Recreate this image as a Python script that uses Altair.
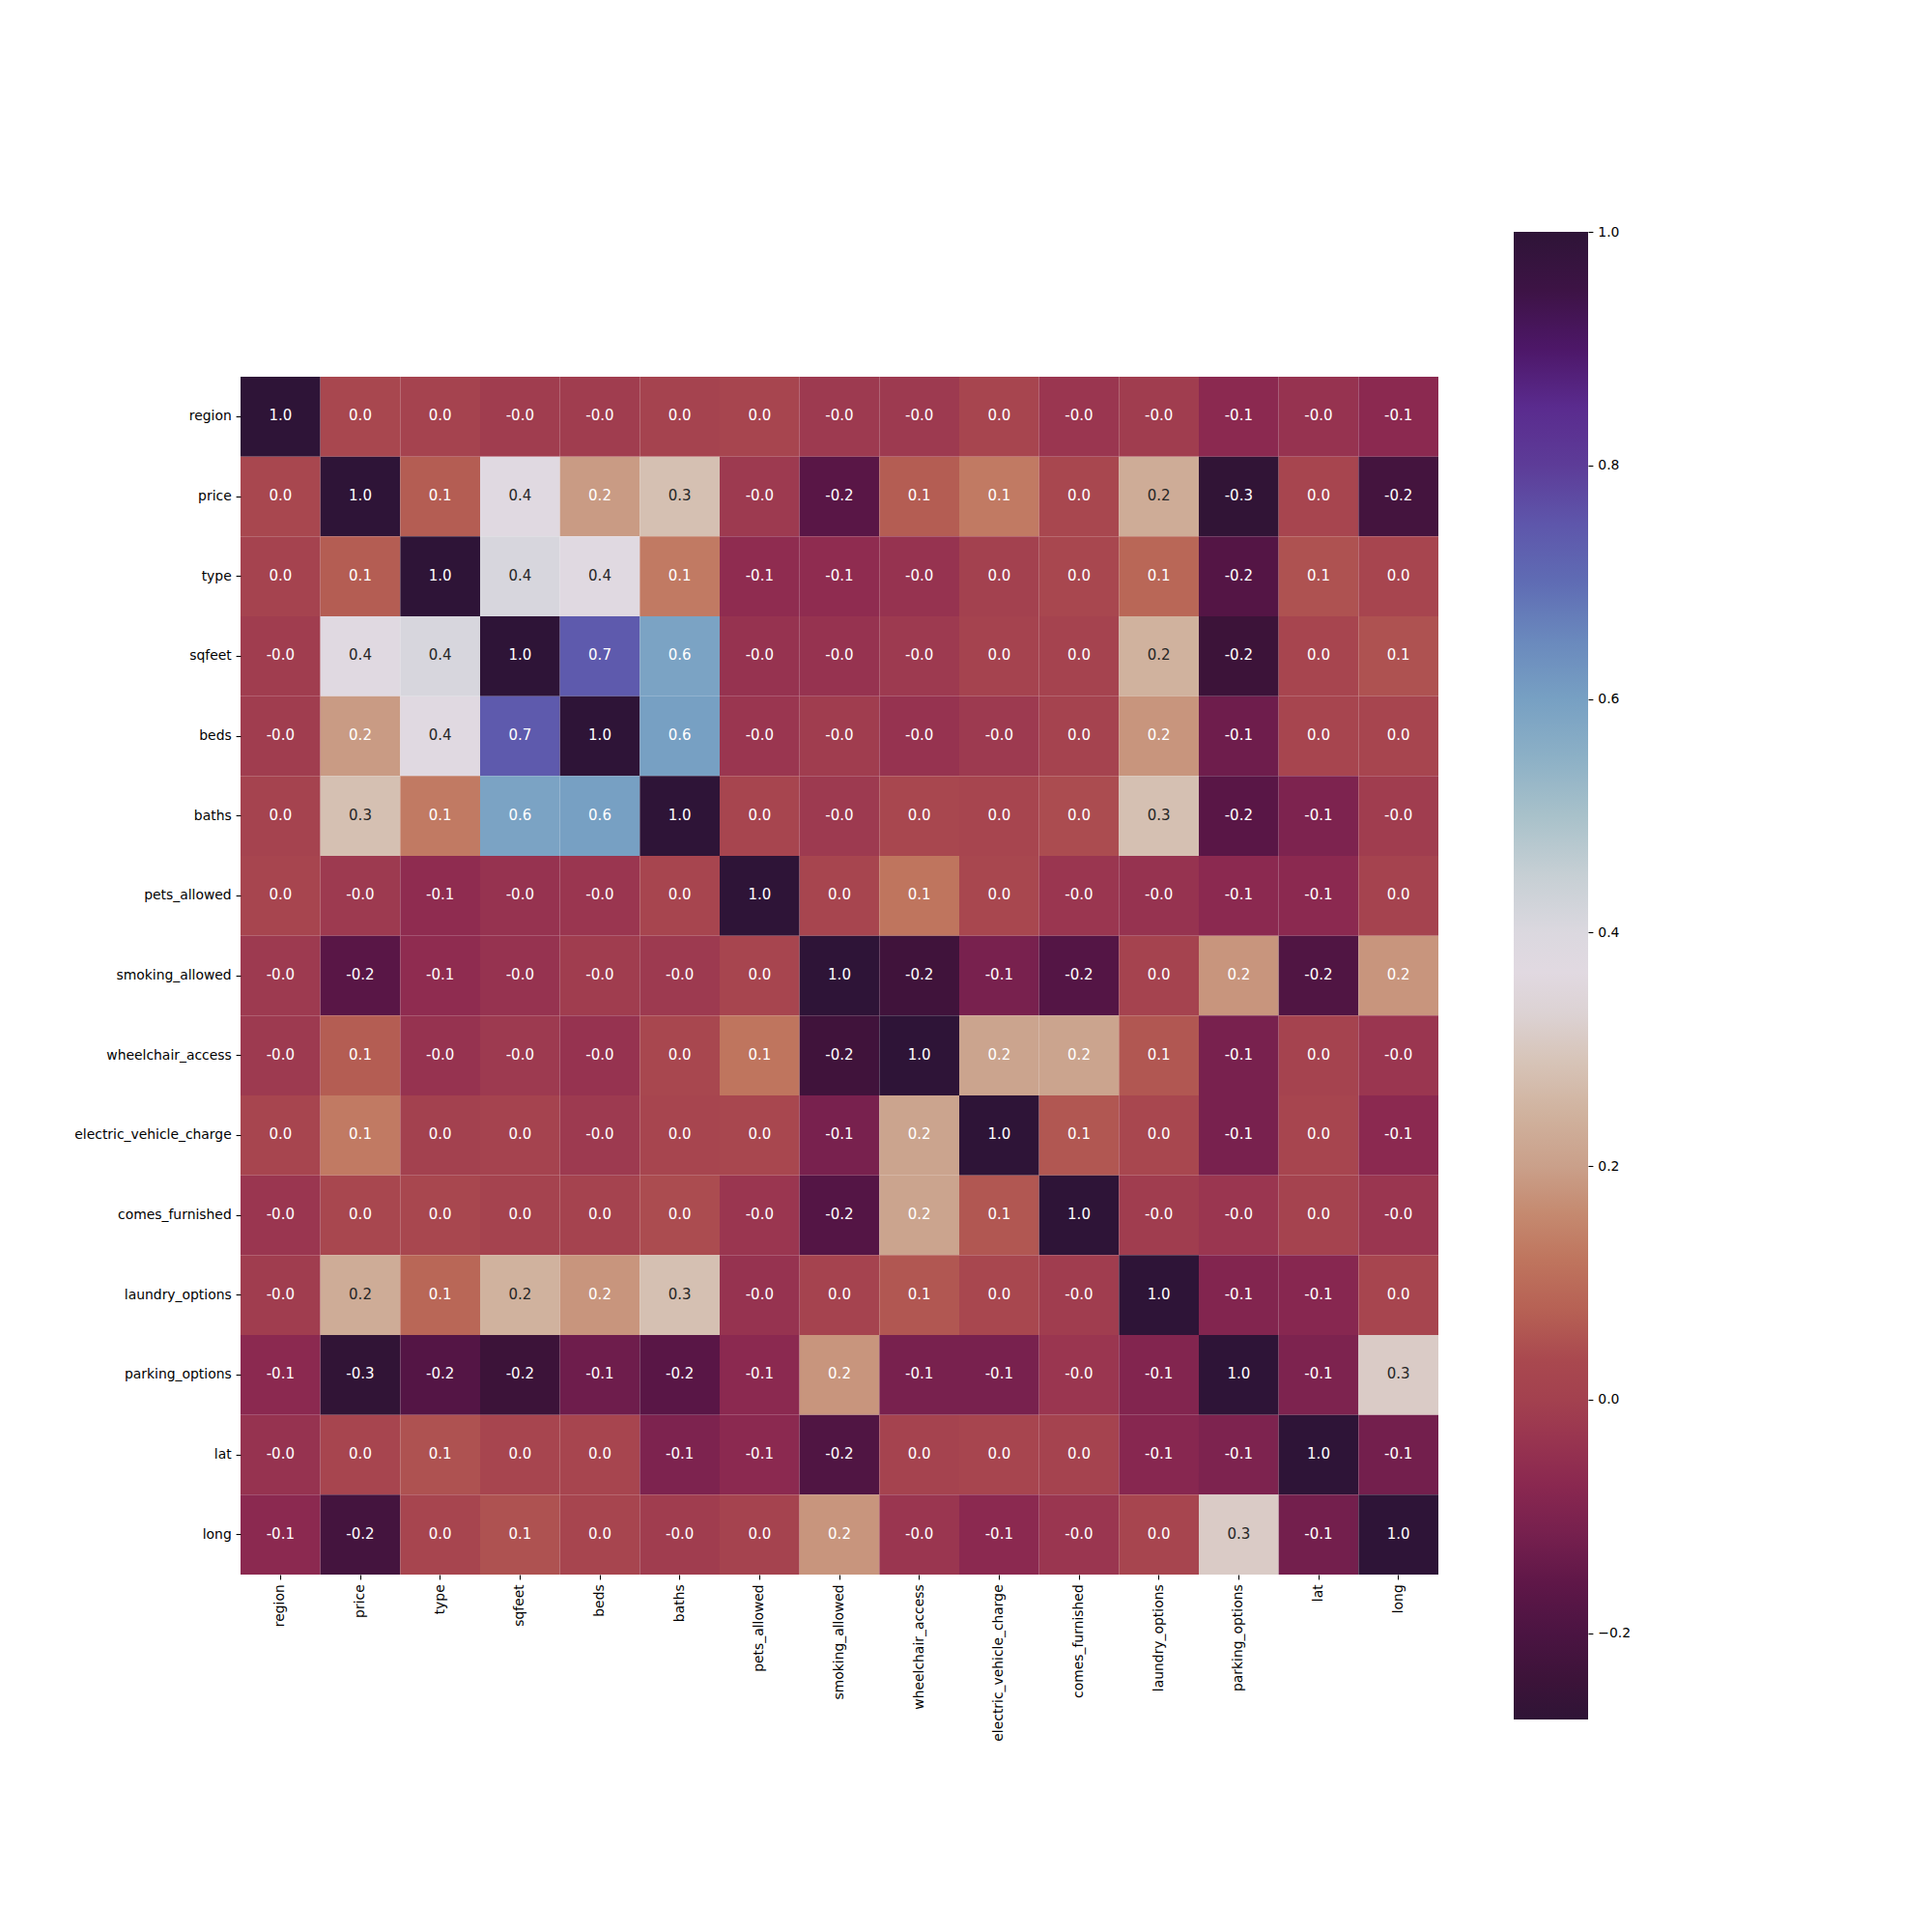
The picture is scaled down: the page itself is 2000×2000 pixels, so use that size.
import altair as alt
import pandas as pd

labels = ["region", "price", "type", "sqfeet", "beds", "baths", "pets_allowed",
          "smoking_allowed", "wheelchair_access", "electric_vehicle_charge",
          "comes_furnished", "laundry_options", "parking_options", "lat", "long"]

row_region = [1.00, 0.03, 0.01, -0.01, -0.01, 0.01, 0.02, -0.02, -0.02, 0.02, -0.03, -0.01, -0.07, -0.04, -0.07]
row_price = [0.03, 1.00, 0.07, 0.37, 0.19, 0.28, -0.02, -0.17, 0.07, 0.13, 0.03, 0.23, -0.27, 0.02, -0.22]
row_type = [0.01, 0.07, 1.00, 0.41, 0.37, 0.13, -0.06, -0.06, -0.04, 0.00, 0.03, 0.09, -0.18, 0.05, 0.02]
row_sqfeet = [-0.01, 0.37, 0.41, 1.00, 0.74, 0.59, -0.04, -0.04, -0.02, 0.01, 0.01, 0.245, -0.24, 0.02, 0.05]
row_beds = [-0.01, 0.19, 0.37, 0.74, 1.00, 0.60, -0.03, -0.01, -0.04, -0.02, 0.01, 0.18, -0.13, 0.02, 0.02]
row_baths = [0.01, 0.28, 0.13, 0.59, 0.60, 1.00, 0.02, -0.02, 0.03, 0.02, 0.04, 0.28, -0.17, -0.10, -0.01]
row_pets = [0.02, -0.02, -0.06, -0.04, -0.03, 0.02, 1.00, 0.02, 0.12, 0.03, -0.03, -0.04, -0.07, -0.07, 0.01]
row_smoking = [-0.02, -0.17, -0.06, -0.04, -0.01, -0.02, 0.02, 1.00, -0.23, -0.11, -0.18, 0.01, 0.18, -0.19, 0.18]
row_wheelchair = [-0.02, 0.07, -0.04, -0.02, -0.04, 0.03, 0.12, -0.23, 1.00, 0.21, 0.21, 0.06, -0.11, 0.01, -0.03]
row_ev = [0.02, 0.13, 0.00, 0.01, -0.02, 0.02, 0.03, -0.11, 0.21, 1.00, 0.06, 0.03, -0.11, 0.02, -0.07]
row_furnished = [-0.03, 0.03, 0.03, 0.01, 0.01, 0.04, -0.03, -0.18, 0.21, 0.06, 1.00, -0.01, -0.03, 0.01, -0.03]
row_laundry = [-0.01, 0.23, 0.09, 0.245, 0.18, 0.28, -0.04, 0.01, 0.06, 0.03, -0.01, 1.00, -0.09, -0.08, 0.02]
row_parking = [-0.07, -0.27, -0.18, -0.24, -0.13, -0.17, -0.07, 0.18, -0.11, -0.11, -0.03, -0.09, 1.00, -0.10, 0.31]
row_lat = [-0.04, 0.02, 0.05, 0.02, 0.02, -0.10, -0.07, -0.19, 0.01, 0.02, 0.01, -0.08, -0.10, 1.00, -0.12]
row_long = [-0.07, -0.22, 0.02, 0.05, 0.02, -0.01, 0.01, 0.18, -0.03, -0.07, -0.03, 0.02, 0.31, -0.12, 1.00]

matrix = [row_region, row_price, row_type, row_sqfeet, row_beds, row_baths, row_pets,
          row_smoking, row_wheelchair, row_ev, row_furnished, row_laundry, row_parking,
          row_lat, row_long]

cbar_min = -0.274
cbar_max = 1.0
cbar_ticks = [-0.2, 0.0, 0.2, 0.4, 0.6, 0.8, 1.0]

cmap_values = [-0.274, -0.24, -0.2, -0.157, -0.115, -0.073, -0.03, 0.0, 0.033, 0.075,
               0.12, 0.16, 0.2, 0.245, 0.29, 0.33, 0.366, 0.4, 0.45, 0.5, 0.55, 0.6,
               0.65, 0.7, 0.75, 0.8, 0.85, 0.9, 0.95, 1.0]
cmap_colors = ["#2f1436", "#3c1339", "#4b1442", "#5f1748", "#76204e", "#8a2850", "#9a3650",
               "#a3414f", "#a9484f", "#b66054", "#bf755e", "#c58a70", "#caa08a", "#d0b29e",
               "#d7c4b8", "#dcd2d3", "#e1d9e1", "#dbd8df", "#c6cfd4", "#a8c1ca", "#8cb0c6",
               "#77a0c3", "#6a89bd", "#5f6cb4", "#5e56ab", "#5d3c98", "#5a2b8e", "#4d1768",
               "#3d1345", "#2e1437"]

records = []
for i, rname in enumerate(labels):
    for j, cname in enumerate(labels):
        v = matrix[i][j]
        records.append({"row": rname, "col": cname, "value": v, "label": f"{v:.1f}"})
df = pd.DataFrame(records)

FONT = "DejaVu Sans"
FS = 13.9
ANNOT_FS = 15

color_scale = alt.Scale(domain=cmap_values, range=cmap_colors, interpolate="rgb")

base = alt.Chart(df).encode(
    x=alt.X("col:N", sort=labels,
            scale=alt.Scale(paddingInner=0, paddingOuter=0),
            axis=alt.Axis(title=None, labelAngle=-90, labelPadding=4.9, tickSize=4.9,
                          labelLimit=400)),
    y=alt.Y("row:N", sort=labels,
            scale=alt.Scale(paddingInner=0, paddingOuter=0),
            axis=alt.Axis(title=None, labelPadding=4.9, tickSize=4.9, labelLimit=400)),
)

rect = base.mark_rect(strokeWidth=0).encode(
    color=alt.Color("value:Q", scale=color_scale, legend=None)
)

text = base.mark_text(font=FONT, fontSize=ANNOT_FS, baseline="middle", align="center",
                      dy=-1).encode(
    text="label:N",
    color=alt.condition((alt.datum.value > 0.22) & (alt.datum.value < 0.5),
                        alt.value("#262626"), alt.value("#ffffff")),
)

heat = (rect + text).properties(width=1240, height=1240)

cb_df = pd.DataFrame({"lo": [cbar_min], "hi": [cbar_max]})
stops = [alt.GradientStop(offset=(v - cbar_min) / (cbar_max - cbar_min), color=c)
         for v, c in zip(cmap_values, cmap_colors)]

cbar = alt.Chart(cb_df).mark_rect(
    color=alt.LinearGradient(gradient="linear", stops=stops, x1=0, x2=0, y1=1, y2=0),
    strokeWidth=0,
).encode(
    y=alt.Y("lo:Q", scale=alt.Scale(domain=[cbar_min, cbar_max], nice=False, zero=False),
            axis=alt.Axis(orient="right", values=cbar_ticks, format=".1f", title=None,
                          grid=False, domain=False, tickSize=4.9, labelPadding=4.9)),
    y2="hi:Q",
    x=alt.value(0),
    x2=alt.value(77),
).properties(width=77, height=1540)

chart = alt.hconcat(heat, cbar, spacing=78, bounds="flush", center=True).properties(
    padding={"left": 68, "top": 225, "right": 5, "bottom": 5}
).configure_view(
    strokeWidth=0
).configure_axis(
    labelFont=FONT, labelFontSize=FS, labelColor="#000000", tickColor="#000000",
    tickWidth=1.1, domain=False, grid=False
)

chart.save("out.html", embed_options={"renderer": "svg", "actions": False})
